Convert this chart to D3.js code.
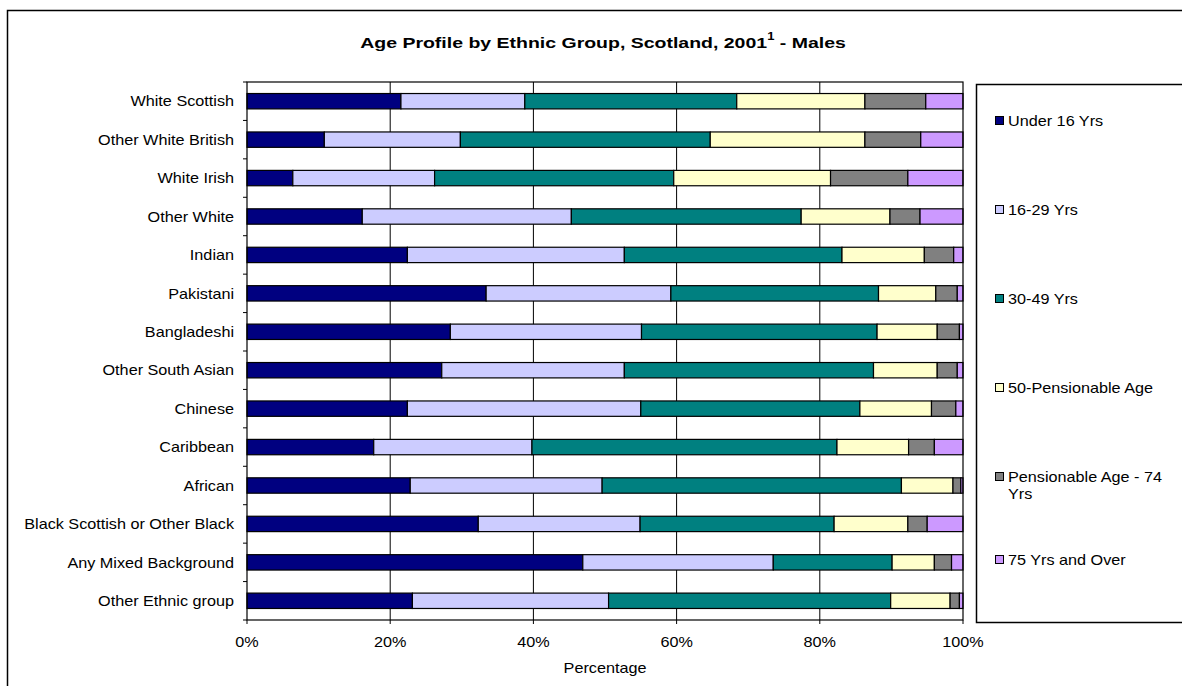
<!DOCTYPE html>
<html>
<head>
<meta charset="utf-8">
<script src="https://cdn.jsdelivr.net/npm/d3@7/dist/d3.min.js"></script>
<style>
  html, body { margin: 0; padding: 0; background: #fff; }
  svg { display: block; }
  text { font-family: "Liberation Sans", Arial, sans-serif; fill: #000; }
</style>
</head>
<body>
<svg id="chart" width="1182" height="686"></svg>
<script>
const categories = ["White Scottish","Other White British","White Irish","Other White","Indian","Pakistani","Bangladeshi","Other South Asian","Chinese","Caribbean","African","Black Scottish or Other Black","Any Mixed Background","Other Ethnic group"];
const seriesNames = ["Under 16 Yrs","16-29 Yrs","30-49 Yrs","50-Pensionable Age","Pensionable Age - 74 Yrs","75 Yrs and Over"];
const under16  = [21.5,10.8,6.4,16.1,22.4,33.4,28.4,27.2,22.4,17.7,22.8,32.3,46.9,23.1];
const age16_29 = [17.3,19.0,19.8,29.2,30.3,25.8,26.7,25.5,32.6,22.1,26.8,22.6,26.6,27.4];
const age30_49 = [29.6,34.9,33.4,32.1,30.4,29.0,32.9,34.8,30.6,42.6,41.8,27.1,16.6,39.4];
const age50_pens = [17.9,21.6,21.9,12.4,11.5,8.0,8.4,8.9,10.0,10.0,7.2,10.3,5.9,8.3];
const pens_74  = [8.5,7.8,10.8,4.2,4.1,3.0,3.1,2.8,3.4,3.6,1.1,2.7,2.4,1.3];
const over75   = [5.2,5.9,7.7,6.0,1.3,0.8,0.5,0.8,1.0,4.0,0.3,5.0,1.6,0.5];
const xTicks = [0, 0.2, 0.4, 0.6, 0.8, 1.0];
const colors = ["#000080","#CCCCFF","#008080","#FFFFCC","#808080","#CC99FF"];

const seriesData = [under16, age16_29, age30_49, age50_pens, pens_74, over75];
const keys = seriesNames;
const table = categories.map((c, i) => {
  const row = { category: c };
  keys.forEach((k, j) => row[k] = seriesData[j][i]);
  return row;
});

const svg = d3.select("#chart");
const plot = { left: 247, right: 963, top: 82, bottom: 620 };
const SX = 1.08;

function txt(g, x, y, s, opts = {}) {
  const t = g.append("text")
    .attr("transform", `translate(${x},${y}) scale(${opts.sx || SX},1)`)
    .attr("text-anchor", opts.anchor || "start")
    .attr("dominant-baseline", "central")
    .style("font-size", (opts.size || 15) + "px")
    .text(s);
  if (opts.bold) t.style("font-weight", "bold");
  return t;
}

// outer chart border
svg.append("rect")
  .attr("x", 7.5).attr("y", 10.5).attr("width", 1200).attr("height", 700)
  .attr("fill", "#fff").attr("stroke", "#000").attr("stroke-width", 1.5);

// title
const title = svg.append("text")
  .attr("transform", `translate(603,43) scale(1.3,1)`)
  .attr("text-anchor", "middle")
  .attr("dominant-baseline", "central")
  .style("font-size", "15px").style("font-weight", "bold");
title.append("tspan").text("Age Profile by Ethnic Group, Scotland, 2001");
title.append("tspan").attr("dy", -6).style("font-size", "10px").text("1");
title.append("tspan").attr("dy", 6).text(" - Males");

const x = d3.scaleLinear().domain([0, 1]).range([plot.left, plot.right]);
const y = d3.scaleBand().domain(categories).range([plot.top, plot.bottom]).paddingInner(0.6).paddingOuter(0.3);

// gridlines
svg.append("g").selectAll("line").data(xTicks.slice(1, -1)).join("line")
  .attr("x1", d => x(d)).attr("x2", d => x(d))
  .attr("y1", plot.top).attr("y2", plot.bottom)
  .attr("stroke", "#000").attr("stroke-width", 1);

// stacked bars
const stack = d3.stack().keys(keys).offset(d3.stackOffsetExpand);
const stacked = stack(table);
svg.append("g").selectAll("g").data(stacked).join("g")
  .attr("fill", (d, i) => colors[i])
  .selectAll("rect").data(d => d).join("rect")
  .attr("x", d => x(d[0]))
  .attr("width", d => x(d[1]) - x(d[0]))
  .attr("y", d => y(d.data.category))
  .attr("height", y.bandwidth())
  .attr("stroke", "#000").attr("stroke-width", 1.2);

// plot border
svg.append("rect")
  .attr("x", plot.left).attr("y", plot.top)
  .attr("width", plot.right - plot.left).attr("height", plot.bottom - plot.top)
  .attr("fill", "none").attr("stroke", "#000").attr("stroke-width", 1.2);

// y axis ticks (band boundaries)
const step = (plot.bottom - plot.top) / categories.length;
const yBounds = d3.range(categories.length + 1).map(i => plot.top + i * step);
svg.append("g").selectAll("line").data(yBounds).join("line")
  .attr("x1", plot.left - 4).attr("x2", plot.left)
  .attr("y1", d => d).attr("y2", d => d)
  .attr("stroke", "#000");

// x axis ticks
svg.append("g").selectAll("line").data(xTicks).join("line")
  .attr("x1", d => x(d)).attr("x2", d => x(d))
  .attr("y1", plot.bottom).attr("y2", plot.bottom + 4)
  .attr("stroke", "#000");

// category labels
const catG = svg.append("g");
categories.forEach(c => {
  txt(catG, 234, y(c) + y.bandwidth() / 2, c, { anchor: "end" });
});

// x tick labels
const fmt = d3.format(".0%");
const xG = svg.append("g");
xTicks.forEach(t => txt(xG, x(t), 642, fmt(t), { anchor: "middle" }));

// x axis title
txt(svg, (plot.left + plot.right) / 2, 668, "Percentage", { anchor: "middle" });

// legend
svg.append("rect")
  .attr("x", 976.5).attr("y", 84.5).attr("width", 260).attr("height", 538)
  .attr("fill", "#fff").attr("stroke", "#000").attr("stroke-width", 1.5);
const legendY = [121, 210, 299, 388, 477, 560];
const lg = svg.append("g");
seriesNames.forEach((name, i) => {
  lg.append("rect")
    .attr("x", 995.5).attr("y", legendY[i] - 4.5).attr("width", 8).attr("height", 8)
    .attr("fill", colors[i]).attr("stroke", "#000");
  if (name === "Pensionable Age - 74 Yrs") {
    txt(lg, 1008, legendY[i], "Pensionable Age - 74");
    txt(lg, 1008, legendY[i] + 17, "Yrs");
  } else {
    txt(lg, 1008, legendY[i], name);
  }
});
</script>
</body>
</html>
